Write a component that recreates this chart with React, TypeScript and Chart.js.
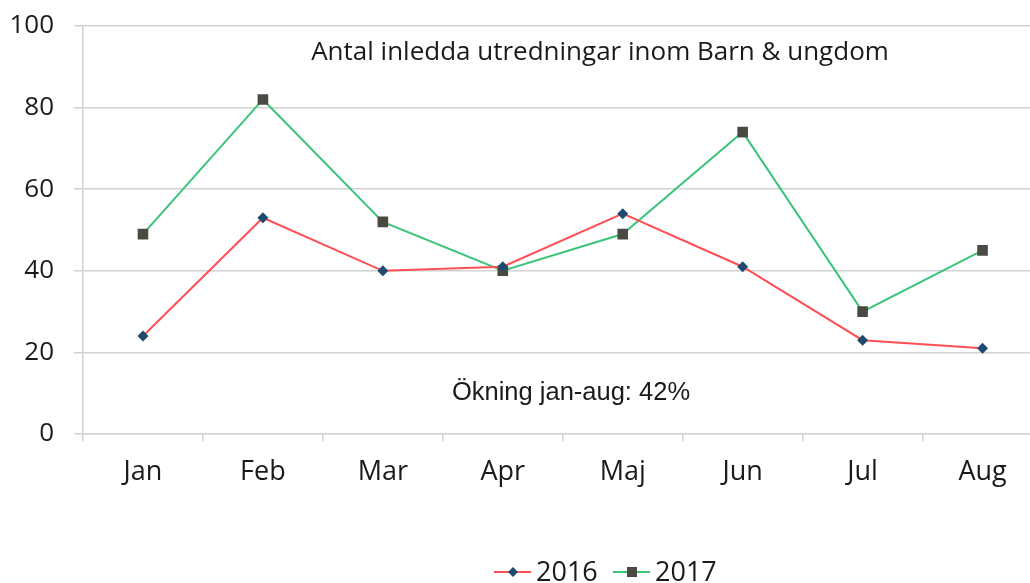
import React, { useEffect, useRef } from "react";
import { Chart, registerables } from "chart.js";

Chart.register(...registerables);

const months = ["Jan", "Feb", "Mar", "Apr", "Maj", "Jun", "Jul", "Aug"];
const series2016 = [24, 53, 40, 41, 54, 41, 23, 21];
const series2017 = [49, 82, 52, 40, 49, 74, 30, 45];
const seriesLabels = ["2016", "2017"];
const yTicks = [0, 20, 40, 60, 80, 100];
const titleText = "Antal inledda utredningar inom Barn & ungdom";
const noteText = "Ökning jan-aug: 42%";

const RED = "#ff4f55";
const GREEN = "#3cc47a";
const NAVY = "#1f4a70";
const GREY = "#4b4a42";
const GRID = "#d2d2d2";

const overlayPlugin = {
  id: "overlay",
  afterDraw(chart: any) {
    const { ctx } = chart;
    ctx.save();
    ctx.fillStyle = "#1a1a1a";
    ctx.textAlign = "center";
    ctx.textBaseline = "middle";
    ctx.font = '26px "Open Sans"';
    ctx.fillText(titleText, 600, 53);
    ctx.font = '25.5px "Liberation Sans"';
    ctx.fillText(noteText, 571, 393);

    // legend
    const items = [
      { x: 494, label: seriesLabels[0], line: RED, mark: NAVY, style: "diamond" },
      { x: 613, label: seriesLabels[1], line: GREEN, mark: GREY, style: "square" },
    ];
    const ly = 572;
    ctx.textAlign = "left";
    ctx.font = '27px "Open Sans"';
    for (const it of items) {
      ctx.strokeStyle = it.line;
      ctx.lineWidth = 2;
      ctx.beginPath();
      ctx.moveTo(it.x, ly);
      ctx.lineTo(it.x + 37, ly);
      ctx.stroke();
      ctx.fillStyle = it.mark;
      const mx = it.x + 19;
      ctx.beginPath();
      if (it.style === "diamond") {
        ctx.moveTo(mx, ly - 5);
        ctx.lineTo(mx + 5, ly);
        ctx.lineTo(mx, ly + 5);
        ctx.lineTo(mx - 5, ly);
        ctx.closePath();
      } else {
        ctx.rect(mx - 5, ly - 5, 10, 10);
      }
      ctx.fill();
      ctx.fillStyle = "#1a1a1a";
      ctx.fillText(it.label, it.x + 42, ly + 1);
    }
    ctx.restore();
  },
};

export default function App() {
  const ref = useRef<HTMLCanvasElement | null>(null);
  useEffect(() => {
    if (!ref.current) return;
    const chart = new Chart(ref.current, {
      type: "line",
      data: {
        labels: months,
        datasets: [
          {
            label: seriesLabels[0],
            data: series2016,
            borderColor: RED,
            backgroundColor: NAVY,
            borderWidth: 2,
            pointStyle: "rectRot",
            pointRadius: 5.5,
            pointBackgroundColor: NAVY,
            pointBorderColor: NAVY,
            pointBorderWidth: 0,
            tension: 0,
          },
          {
            label: seriesLabels[1],
            data: series2017,
            borderColor: GREEN,
            backgroundColor: GREY,
            borderWidth: 2,
            pointStyle: "rect",
            pointRadius: 7.5,
            pointBackgroundColor: GREY,
            pointBorderColor: GREY,
            pointBorderWidth: 0,
            tension: 0,
          },
        ],
      },
      options: {
        responsive: false,
        animation: false,
        devicePixelRatio: 1,
        layout: { padding: { top: 26, right: 4, left: 0, bottom: 0 } },
        plugins: {
          legend: { display: false },
          title: { display: false },
          tooltip: { enabled: false },
        },
        scales: {
          x: {
            offset: true,
            grid: {
              offset: true,
              drawOnChartArea: false,
              drawTicks: true,
              tickLength: 7,
              color: GRID,
              lineWidth: 1.5,
            },
            border: { color: GRID, width: 1.5 },
            ticks: {
              color: "#1a1a1a",
              font: { family: "Open Sans", size: 27 },
              padding: 15,
            },
            afterFit(scale: any) {
              scale.height = 583 - 434;
              scale.paddingLeft = 0;
              scale.paddingRight = 0;
            },
          },
          y: {
            min: 0,
            max: 100,
            afterBuildTicks(scale: any) {
              scale.ticks = yTicks.map((v) => ({ value: v }));
            },
            grid: {
              color: GRID,
              lineWidth: 1.5,
              tickLength: 9,
            },
            border: { color: GRID, width: 1.5 },
            ticks: {
              color: "#1a1a1a",
              font: { family: "Open Sans", size: 26 },
              padding: 20,
            },
            afterFit(scale: any) {
              scale.width = 83;
              scale.paddingTop = 0;
              scale.paddingBottom = 0;
            },
          },
        },
      },
      plugins: [overlayPlugin],
    });
    return () => chart.destroy();
  }, []);
  return (
    <div
      style={{
        position: "absolute",
        left: 0,
        top: 0,
        width: 1030,
        height: 583,
        overflow: "hidden",
        background: "#fff",
      }}
    >
      <canvas ref={ref} width={1050} height={583} style={{ display: "block" }} />
    </div>
  );
}
